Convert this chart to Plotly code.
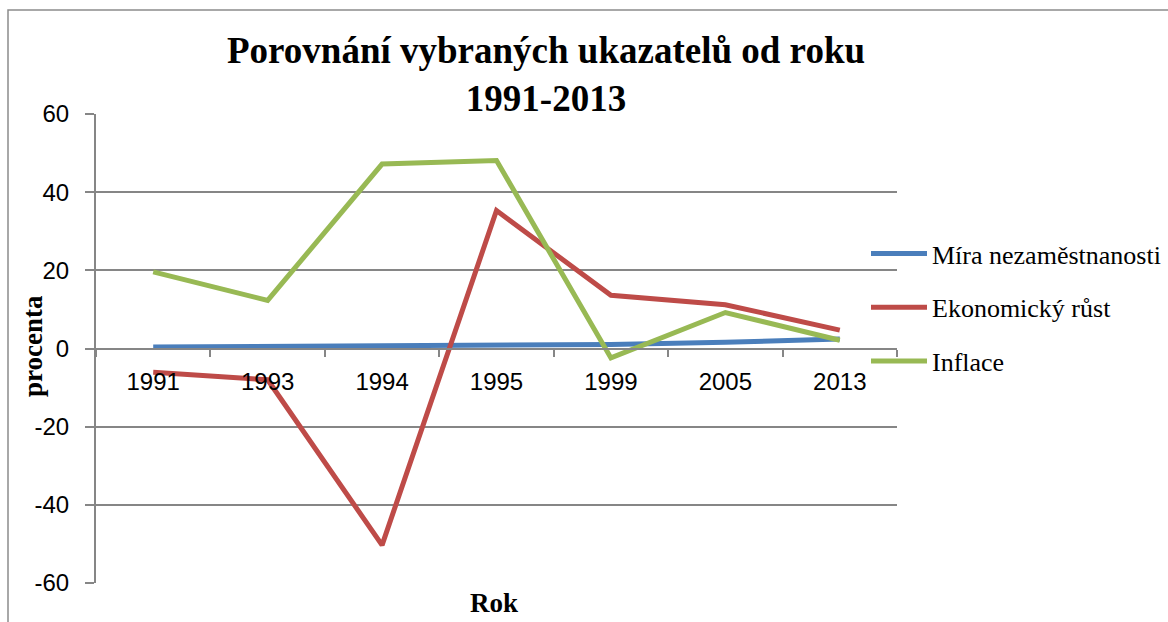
import plotly.graph_objects as go

years = ["1991", "1993", "1994", "1995", "1999", "2005", "2013"]
nezamestnanost = [0.4, 0.5, 0.5, 0.6, 1.0, 1.6, 2.4]
rust = [-6.1, -8.0, -50.3, 35.3, 13.6, 11.2, 4.7]
inflace = [19.6, 12.3, 47.2, 48.1, -2.4, 9.2, 2.1]

y_tickvals = [-60, -40, -20, 0, 20, 40, 60]
y_ticktext = ["-60", "-40", "-20", "0", "20", "40", "60"]

series_names = ["Míra nezaměstnanosti", "Ekonomický růst", "Inflace"]
series_values = [nezamestnanost, rust, inflace]
series_colors = ["#4A7EBB", "#BE4B48", "#98B954"]

W, H = 1168, 622
L, R, T, B = 96, 897, 114, 583
pw, ph = R - L, B - T


def px(x):
    return (x - L) / pw


def py(y):
    return (B - y) / ph


fig = go.Figure()
for i, (name, vals, col) in enumerate(zip(series_names, series_values, series_colors)):
    fig.add_trace(go.Scatter(
        x=years, y=vals, name=name, mode="lines",
        line=dict(color=col, width=5),
        legendgroup=f"g{i}",
    ))

grid = "#868686"
fig.update_layout(
    width=W, height=H,
    margin=dict(l=L, r=W - R, t=T, b=H - B, autoexpand=False),
    paper_bgcolor="white", plot_bgcolor="white",
    showlegend=True,
    legend=dict(
        x=px(866), y=py(230), xanchor="left", yanchor="top",
        font=dict(family="Liberation Serif", size=26, color="black"),
        itemwidth=56, tracegroupgap=17, bgcolor="rgba(0,0,0,0)",
        traceorder="grouped",
    ),
    xaxis=dict(
        type="category", anchor="free", position=0.5, range=[-0.5, len(years) - 0.5],
        showline=True, linecolor=grid, linewidth=2,
        ticks="outside", tickson="boundaries", ticklen=7, tickcolor=grid, tickwidth=2,
        showgrid=False, zeroline=False,
        tickfont=dict(family="Liberation Sans", size=24, color="black"),
        ticklabelstandoff=12,
    ),
    yaxis=dict(
        range=[-60, 60], tickvals=y_tickvals, ticktext=y_ticktext,
        showline=True, linecolor=grid, linewidth=2,
        ticks="outside", ticklen=9, tickcolor=grid, tickwidth=2,
        showgrid=True, gridcolor=grid, gridwidth=2, zeroline=False,
        tickfont=dict(family="Liberation Sans", size=24, color="black"),
        ticklabelstandoff=11,
    ),
    shapes=[dict(
        type="rect", xref="paper", yref="paper",
        x0=px(8), x1=px(1200), y0=py(10), y1=py(700),
        line=dict(color="#8c8c8c", width=1.5), fillcolor="rgba(0,0,0,0)", layer="below",
    )],
    annotations=[
        dict(text="<b>Porovnání vybraných ukazatelů od roku<br>1991-2013</b>",
             xref="paper", yref="paper", x=px(546), y=py(28), xanchor="center", yanchor="top",
             showarrow=False, font=dict(family="Liberation Serif", size=37, color="black")),
        dict(text="<b>Rok</b>", xref="paper", yref="paper", x=px(494), y=py(603),
             xanchor="center", yanchor="middle", showarrow=False,
             font=dict(family="Liberation Serif", size=27, color="black")),
        dict(text="<b>procenta</b>", xref="paper", yref="paper", x=px(33), y=py(346),
             xanchor="center", yanchor="middle", textangle=-90, showarrow=False,
             font=dict(family="Liberation Serif", size=27, color="black")),
    ],
)

fig.write_html("out.html", config={"displayModeBar": False},
               post_script="document.body.style.margin='0';")
